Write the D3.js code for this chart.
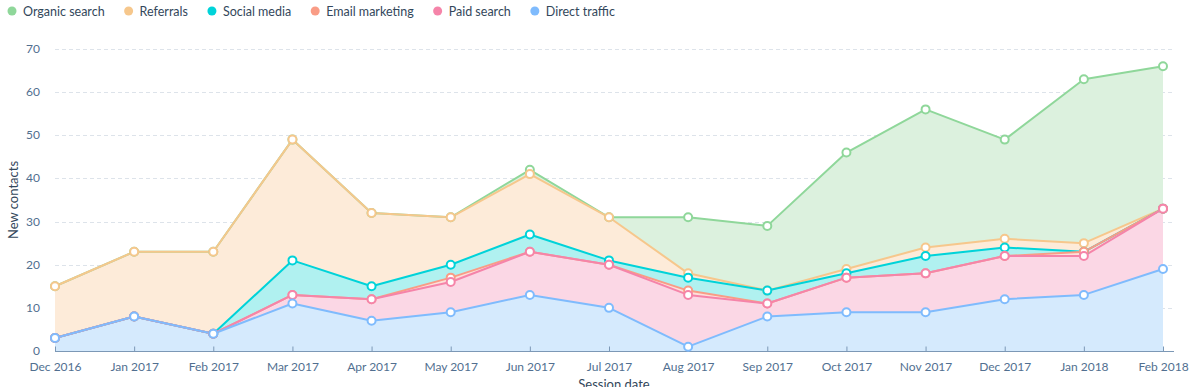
<!DOCTYPE html>
<html>
<head>
<meta charset="utf-8">
<script src="https://cdn.jsdelivr.net/npm/d3@7"></script>
<style>
  html, body { margin: 0; padding: 0; background: #fff; }
  svg { display: block; font-family: Lato, "Open Sans", sans-serif; }
</style>
</head>
<body>
<svg id="chart" width="1203" height="387"></svg>
<script>
const months = ["Dec 2016","Jan 2017","Feb 2017","Mar 2017","Apr 2017","May 2017","Jun 2017","Jul 2017","Aug 2017","Sep 2017","Oct 2017","Nov 2017","Dec 2017","Jan 2018","Feb 2018"];
const seriesNames = ["Organic search","Referrals","Social media","Email marketing","Paid search","Direct traffic"];
const organicSearch  = [0,0,0,0,0,0,1,0,13,15,27,32,23,38,33];
const referrals      = [12,15,19,28,17,11,14,10,1,0,1,2,2,2,0];
const socialMedia    = [0,0,0,8,3,3,4,1,3,3,1,4,2,0,0];
const emailMarketing = [0,0,0,0,0,1,0,0,1,0,0,0,0,1,0];
const paidSearch     = [0,0,0,2,5,7,10,10,12,3,8,9,10,9,14];
const directTraffic  = [3,8,4,11,7,9,13,10,1,8,9,9,12,13,19];
const yTicks = [0,10,20,30,40,50,60,70];

const lineColors = ["#8fd79a","#f6c78c","#00d3d9","#f99c86","#f584a9","#7fbbfd"];
const fillColors = ["#dcf1de","#fdebd9","#b0f1f0","#fde0da","#fbd7e5","#d5eafd"];

const valuesByName = {
  "Organic search": organicSearch, "Referrals": referrals, "Social media": socialMedia,
  "Email marketing": emailMarketing, "Paid search": paidSearch, "Direct traffic": directTraffic
};
const rows = months.map((m, i) => {
  const r = { month: m };
  seriesNames.forEach(n => r[n] = valuesByName[n][i]);
  return r;
});
const stackKeys = seriesNames.slice().reverse();
const stacked = d3.stack().keys(stackKeys)(rows);
const layerByName = {};
stacked.forEach(l => layerByName[l.key] = l);

const svg = d3.select("#chart");
const x = d3.scalePoint().domain(months).range([55, 1163]);
const y = d3.scaleLinear().domain([0, 70]).range([351, 49]);
const plotRight = 1174;

// grid
svg.append("g").selectAll("line").data(yTicks.filter(t => t > 0)).join("line")
  .attr("x1", 55).attr("x2", plotRight)
  .attr("y1", d => Math.round(y(d)) + 0.5).attr("y2", d => Math.round(y(d)) + 0.5)
  .attr("stroke", "#dde3ea").attr("stroke-dasharray", "4,3").attr("stroke-width", 1);

// y tick labels
svg.append("g").selectAll("text").data(yTicks).join("text")
  .attr("x", 40).attr("y", d => y(d) + 4)
  .attr("text-anchor", "end").attr("font-size", 12).attr("fill", "#516f90")
  .text(d => d);

// areas
const area = d3.area().x((d, i) => x(months[i])).y0(d => y(d[0])).y1(d => y(d[1]));
const line = d3.line().x((d, i) => x(months[i])).y(d => y(d[1]));
const gAreas = svg.append("g");
seriesNames.forEach((n, si) => {
  gAreas.append("path").datum(layerByName[n]).attr("d", area)
    .attr("fill", fillColors[si]).attr("stroke", "none");
});

// axis line + ticks
const xAxis = d3.axisBottom(x).tickSizeInner(-5).tickSizeOuter(0).tickPadding(11);
const gx = svg.append("g").attr("transform", "translate(0,351.5)").call(xAxis);
gx.select(".domain").attr("d", `M55,0H${plotRight}`).attr("stroke", "#7c98b6");
gx.selectAll(".tick line").attr("stroke", "#7c98b6");
gx.selectAll(".tick text").attr("font-size", 12).attr("fill", "#516f90")
  .attr("font-family", "Lato, sans-serif").attr("dy", "0.71em");

// lines
seriesNames.forEach((n, si) => {
  svg.append("path").datum(layerByName[n]).attr("d", line)
    .attr("fill", "none").attr("stroke", lineColors[si]).attr("stroke-width", 2)
    .attr("stroke-linejoin", "round");
});
// markers
seriesNames.forEach((n, si) => {
  svg.append("g").selectAll("circle").data(layerByName[n]).join("circle")
    .attr("cx", (d, i) => x(months[i])).attr("cy", d => y(d[1])).attr("r", 4)
    .attr("fill", "#fff").attr("stroke", lineColors[si]).attr("stroke-width", 2);
});

// axis titles
svg.append("text").attr("x", 614).attr("y", 389).attr("text-anchor", "middle")
  .attr("font-size", 13).attr("fill", "#33475b").text("Session date");
svg.append("text").attr("transform", "translate(18,200) rotate(-90)")
  .attr("text-anchor", "middle").attr("font-size", 13).attr("fill", "#33475b").text("New contacts");

// legend
const gl = svg.append("g");
let lx = 12;
seriesNames.forEach((n, si) => {
  gl.append("circle").attr("cx", lx).attr("cy", 11).attr("r", 4.5).attr("fill", lineColors[si]);
  const t = gl.append("text").attr("x", lx + 11).attr("y", 15.5).attr("font-size", 12.5)
    .attr("fill", "#33475b").text(n);
  const w = t.node().getComputedTextLength();
  lx += 11 + w + 24;
});
</script>
</body>
</html>
